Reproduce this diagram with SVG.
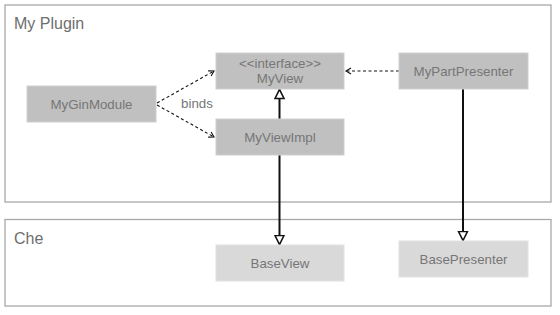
<svg xmlns="http://www.w3.org/2000/svg" width="560" height="315" viewBox="0 0 560 315">
  <style>
    .container { fill: #ffffff; stroke: #a8a8a8; stroke-width: 1.3; }
    .title { font-family: "Liberation Sans", Arial, sans-serif; font-size: 16px; fill: #6e6e6e; }
    .node-dark { fill: #c0c0c0; stroke: #cfcfcf; stroke-width: 1; }
    .node-light { fill: #d9d9d9; stroke: #e2e2e2; stroke-width: 1; }
    .label { font-family: "Liberation Sans", Arial, sans-serif; font-size: 13.3px; fill: #767676; text-anchor: middle; }
    .dep { fill: none; stroke: #111111; stroke-width: 1.1; stroke-dasharray: 3 2.5; }
    .ext { fill: none; stroke: #111111; stroke-width: 2; }
  </style>
  <defs>
    <marker id="open-arrow" markerWidth="8" markerHeight="8" refX="6" refY="4" orient="auto" markerUnits="userSpaceOnUse">
      <path d="M1,1 L6,4 L1,7" fill="none" stroke="#111111" stroke-width="1.1"/>
    </marker>
    <marker id="hollow-triangle" markerWidth="12" markerHeight="12" refX="10" refY="6" orient="auto" markerUnits="userSpaceOnUse">
      <path d="M1,1.5 L10,6 L1,10.5 Z" fill="#ffffff" stroke="#111111" stroke-width="1.6"/>
    </marker>
  </defs>

  <!-- containers -->
  <g id="my-plugin">
    <rect class="container" x="5" y="5" width="546" height="197"/>
    <text class="title" x="14" y="29">My Plugin</text>
  </g>
  <g id="che">
    <rect class="container" x="5" y="219.5" width="546" height="86.5"/>
    <text class="title" x="14" y="244">Che</text>
  </g>

  <!-- connectors -->
  <g id="connectors">
    <path class="dep" d="M157,103 L214,71" marker-end="url(#open-arrow)"/>
    <path class="dep" d="M157,105 L214,137" marker-end="url(#open-arrow)"/>
    <text class="label" x="197" y="108">binds</text>
    <path class="dep" d="M399,71 L346,71" marker-end="url(#open-arrow)"/>
    <path class="ext" d="M279.5,119 L279.5,89.5" marker-end="url(#hollow-triangle)"/>
    <path class="ext" d="M279.5,155 L279.5,244.5" marker-end="url(#hollow-triangle)"/>
    <path class="ext" d="M463,89 L463,240.5" marker-end="url(#hollow-triangle)"/>
  </g>

  <!-- nodes -->
  <g id="MyGinModule">
    <rect class="node-dark" x="27" y="86" width="129" height="36"/>
    <text class="label" x="91.5" y="108.5">MyGinModule</text>
  </g>
  <g id="MyView">
    <rect class="node-dark" x="216" y="53" width="128" height="36"/>
    <text class="label" x="280" y="68">&lt;&lt;interface&gt;&gt;</text>
    <text class="label" x="280" y="83">MyView</text>
  </g>
  <g id="MyViewImpl">
    <rect class="node-dark" x="216" y="119" width="128" height="36"/>
    <text class="label" x="280" y="141.5">MyViewImpl</text>
  </g>
  <g id="MyPartPresenter">
    <rect class="node-dark" x="399" y="53" width="129" height="36"/>
    <text class="label" x="463.5" y="75.5">MyPartPresenter</text>
  </g>
  <g id="BaseView">
    <rect class="node-light" x="216" y="245" width="128" height="36"/>
    <text class="label" x="280" y="267.5">BaseView</text>
  </g>
  <g id="BasePresenter">
    <rect class="node-light" x="399" y="241" width="129" height="36"/>
    <text class="label" x="463.5" y="263.5">BasePresenter</text>
  </g>
</svg>
